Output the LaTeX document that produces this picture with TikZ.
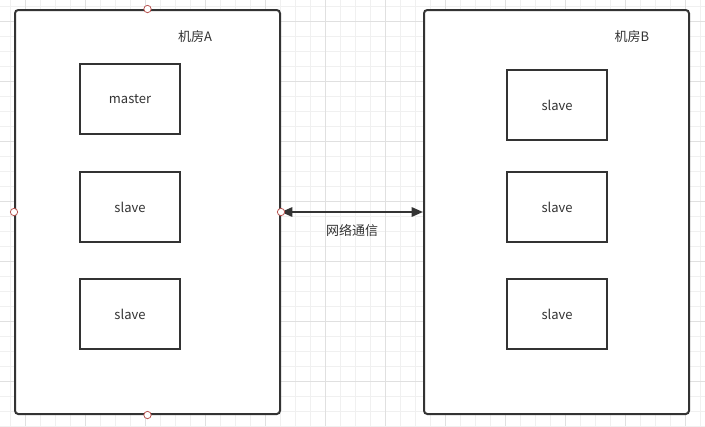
\documentclass[tikz,border=0pt]{standalone}
\usepackage{fontspec}
\setmainfont{Noto Sans CJK SC}
\usetikzlibrary{arrows.meta}

\definecolor{lineGray}{RGB}{51,51,51}
\definecolor{gridMinor}{RGB}{240,240,240}
\definecolor{gridMajor}{RGB}{224,224,224}
\definecolor{handleRed}{RGB}{184,84,80}

\tikzset{
    room/.style={draw=lineGray, line width=1.5pt, fill=white, rounded corners=2.5pt,
        minimum width=198.75pt, minimum height=303pt, inner sep=0pt},
    server/.style={draw=lineGray, line width=1.5pt, fill=white,
        minimum width=75pt, minimum height=52.5pt, inner sep=0pt,
        text=lineGray, font=\fontsize{9.75}{12}\selectfont},
    label/.style={text=lineGray, inner sep=0.75pt, font=\fontsize{9.75}{12}\selectfont},
    handle/.style={circle, draw=handleRed, fill=white, line width=0.6pt,
        minimum size=5.5pt, inner sep=0pt}
}

\begin{document}
\begin{tikzpicture}[x=0.75pt,y=0.75pt,yscale=-1,xscale=1]
    \useasboundingbox (0,0) rectangle (705,426);
    \fill[white] (0,0) rectangle (705,426);
    % grid
    \foreach \k in {0,...,46} {
        \draw[gridMinor, line width=0.75pt] (10.5+15*\k,0) -- (10.5+15*\k,426);
    }
    \foreach \k in {0,...,28} {
        \draw[gridMinor, line width=0.75pt] (0,6+15*\k) -- (705,6+15*\k);
    }
    \foreach \k in {0,...,11} {
        \draw[gridMajor, line width=0.75pt] (25.5+60*\k,0) -- (25.5+60*\k,426);
    }
    \foreach \k in {0,...,7} {
        \draw[gridMajor, line width=0.75pt] (0,21+60*\k) -- (705,21+60*\k);
    }
    % rooms
    \node[room] (roomA) at (147.5,212) {};
    \node[room] (roomB) at (556.5,212) {};
    % Text Node
    \node[label] (titleA) at (195,37) {机房A};
    % Text Node
    \node[label] (titleB) at (632,37) {机房B};
    % servers in room A
    \node[server] (masterA) at (130,99) {master};
    \node[server] (slaveA1) at (130,207) {slave};
    \node[server] (slaveA2) at (130,314) {slave};
    % servers in room B
    \node[server] (slaveB1) at (557,105) {slave};
    \node[server] (slaveB2) at (557,207) {slave};
    \node[server] (slaveB3) at (557,314) {slave};
    % link between rooms
    \draw[lineGray, line width=1.5pt, {Triangle[length=8.5pt,width=7pt]}-{Triangle[length=8.5pt,width=7pt]}]
        (roomA.east) -- (roomB.west);
    % Text Node
    \node[label] (linkText) at (352,230) {网络通信};
    % handles
    \node[handle] (hN) at (roomA.north) {};
    \node[handle] (hW) at (roomA.west) {};
    \node[handle] (hE) at (roomA.east) {};
    \node[handle] (hS) at (roomA.south) {};
\end{tikzpicture}
\end{document}
